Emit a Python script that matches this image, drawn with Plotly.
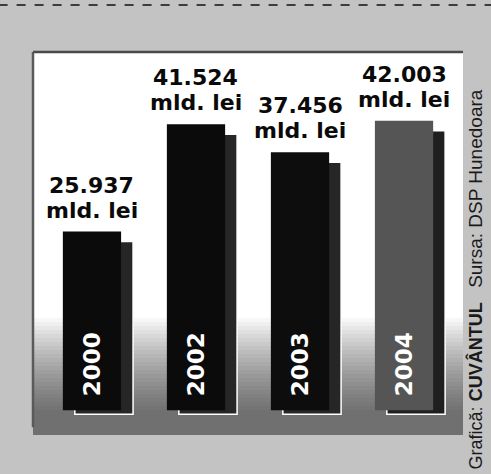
import plotly.graph_objects as go

# ---- data ----
years = ["2000", "2002", "2003", "2004"]
values = [25.937, 41.524, 37.456, 42.003]          # mld. lei
value_labels = ["25.937", "41.524", "37.456", "42.003"]
unit_label = "mld. lei"
credit_source = "Sursa: DSP Hunedoara"
credit_graphic = "Grafică: <b>CUVÂNTUL</b>"

# ---- styles ----
BAR_COLORS = ["#0b0b0b", "#0b0b0b", "#0d0d0d", "#555555"]
SHADOW_COLORS = ["#262626", "#262626", "#262626", "#1f1f1f"]
BAR_W = 0.56
SHADOW_DX = 0.115
SHADOW_TOP_DROP = 1.45
SHADOW_BOTTOM_DROP = 0.6
BG = "#c3c3c3"

fig = go.Figure()

# shadows
fig.add_trace(go.Bar(
    x=years,
    y=[v - SHADOW_TOP_DROP + SHADOW_BOTTOM_DROP for v in values],
    base=[-SHADOW_BOTTOM_DROP] * len(values),
    width=[BAR_W] * len(values),
    offset=[-BAR_W / 2 + SHADOW_DX] * len(values),
    marker=dict(color=SHADOW_COLORS, line=dict(color="white", width=1.5)),
    hoverinfo="skip", showlegend=False,
))
# front bars
fig.add_trace(go.Bar(
    x=years, y=values,
    width=[BAR_W] * len(values),
    offset=[-BAR_W / 2] * len(values),
    marker=dict(color=BAR_COLORS, line=dict(width=0)),
    showlegend=False,
))

annotations = []
for i, (yr, v, lab) in enumerate(zip(years, values, value_labels)):
    annotations.append(dict(x=i, y=v, text=unit_label, showarrow=False,
                            xanchor="center", yanchor="bottom", yshift=7,
                            font=dict(family="DejaVu Sans", size=22, color="#0a0a0a", weight="bold")))
    annotations.append(dict(x=i, y=v, text=lab, showarrow=False,
                            xanchor="center", yanchor="bottom", yshift=32,
                            font=dict(family="DejaVu Sans", size=22, color="#0a0a0a", weight="bold")))
    annotations.append(dict(x=i, y=0, text=yr, showarrow=False, textangle=-90,
                            xanchor="center", yanchor="bottom", yshift=12,
                            font=dict(family="DejaVu Sans", size=23, color="white", weight="bold")))

annotations.append(dict(xref="paper", yref="paper", x=1.030, y=0.645, text=credit_source,
                        showarrow=False, textangle=-90, xanchor="center", yanchor="middle",
                        font=dict(family="Liberation Sans", size=19, color="#1a1a1a")))
annotations.append(dict(xref="paper", yref="paper", x=1.030, y=(435 - 471) / 383.0,
                        text=credit_graphic, showarrow=False, textangle=-90,
                        xanchor="center", yanchor="bottom",
                        font=dict(family="Liberation Sans", size=18, color="#1a1a1a")))

shapes = []
def py(p):
    return (435 - p) / 383.0
# gradient at bottom of panel
for k in range(24):
    top = 318 + k * 4
    shapes.append(dict(type="rect", xref="paper", yref="paper", x0=0, x1=1,
                       y0=0, y1=py(top), fillcolor="black", opacity=0.03,
                       line=dict(width=0), layer="below"))
# panel frame (top + left)
shapes.append(dict(type="line", xref="paper", yref="paper", x0=0, x1=1, y0=1, y1=1,
                   line=dict(color="#4a4a4a", width=2.5)))
shapes.append(dict(type="line", xref="paper", yref="paper", x0=0, x1=0, y0=0.02, y1=1,
                   line=dict(color="#5a5a5a", width=2.5)))
# scan border dashed line on top
shapes.append(dict(type="line", xref="paper", yref="paper", x0=-0.08, x1=1.07,
                   y0=py(5), y1=py(5), line=dict(color="#3c3c3c", width=2, dash="dash")))

fig.update_layout(
    width=491, height=474,
    margin=dict(l=33, r=28, t=52, b=39, autoexpand=False),
    paper_bgcolor=BG, plot_bgcolor="white",
    barmode="overlay",
    xaxis=dict(type="category", range=[-0.567, 3.567], visible=False, fixedrange=True),
    yaxis=dict(range=[-3.6, 52.0], visible=False, fixedrange=True),
    annotations=annotations, shapes=shapes,
)

fig.write_html("out.html", config={"displayModeBar": False},
               post_script="document.body.style.margin='0';document.body.style.padding='0';")
